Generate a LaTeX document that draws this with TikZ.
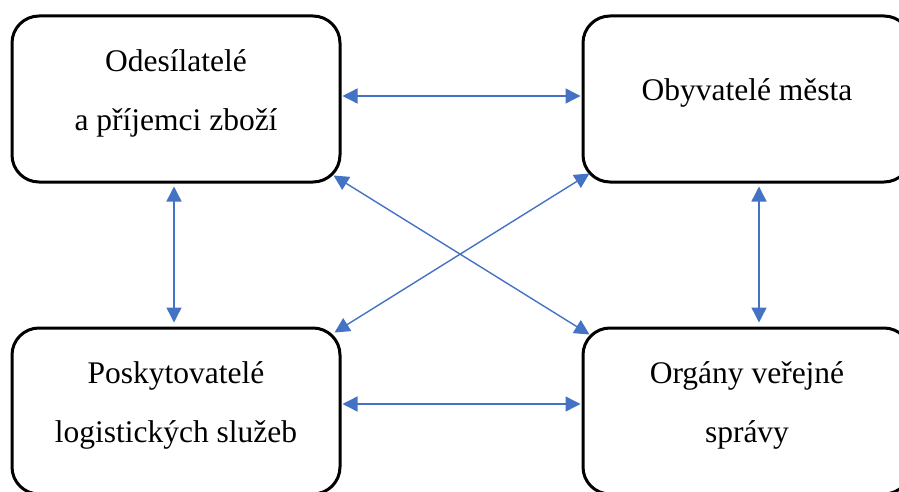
\documentclass[tikz,border=0pt]{standalone}
\usepackage{fontspec}
\setmainfont{Liberation Serif}
\usetikzlibrary{arrows.meta}
\definecolor{arrowblue}{HTML}{4472C4}
\tikzset{
  box/.style={draw, line width=3pt, rounded corners=27pt, minimum width=328pt, minimum height=166pt},
  boxtext/.style={align=center, font=\fontsize{31.5}{59}\selectfont},
  link/.style={color=arrowblue, line width=1.4pt, {Triangle[length=15pt,width=15pt]}-{Triangle[length=15pt,width=15pt]}}
}
\begin{document}
\begin{tikzpicture}[x=1pt,y=1pt]
\clip (0,0) rectangle (899,491);
\node[box] (odes) at (176,392) {};
\node[box] (obyv) at (747,392) {};
\node[box] (posk) at (176,80) {};
\node[box] (orga) at (747,80) {};
\node[boxtext] (odestext) at ([yshift=6pt]odes.center) {Odesílatelé\\a příjemci zboží};
\node[boxtext] (obyvtext) at ([yshift=6pt]obyv.center) {Obyvatelé města};
\node[boxtext] (posktext) at ([yshift=6pt]posk.center) {Poskytovatelé\\logistických služeb};
\node[boxtext] (orgatext) at ([yshift=6pt]orga.center) {Orgány veřejné\\správy};
\draw[link, shorten <=1pt, shorten >=1pt] ([yshift=3pt]odes.east) -- ([yshift=3pt]obyv.west);
\draw[link, shorten <=1pt, shorten >=1pt] ([yshift=7pt]posk.east) -- ([yshift=7pt]orga.west);
\draw[link, shorten <=3pt, shorten >=4pt] ([xshift=-2pt]odes.south) -- ([xshift=-2pt]posk.north);
\draw[link, shorten <=3pt, shorten >=4pt] ([xshift=12pt]obyv.south) -- ([xshift=12pt]orga.north);
\draw[link] ([shift={(-8pt,8pt)}]odes.south east) -- ([shift={(8pt,-8pt)}]orga.north west);
\draw[link] ([shift={(8pt,10pt)}]obyv.south west) -- ([shift={(-7pt,-6pt)}]posk.north east);
\end{tikzpicture}
\end{document}
